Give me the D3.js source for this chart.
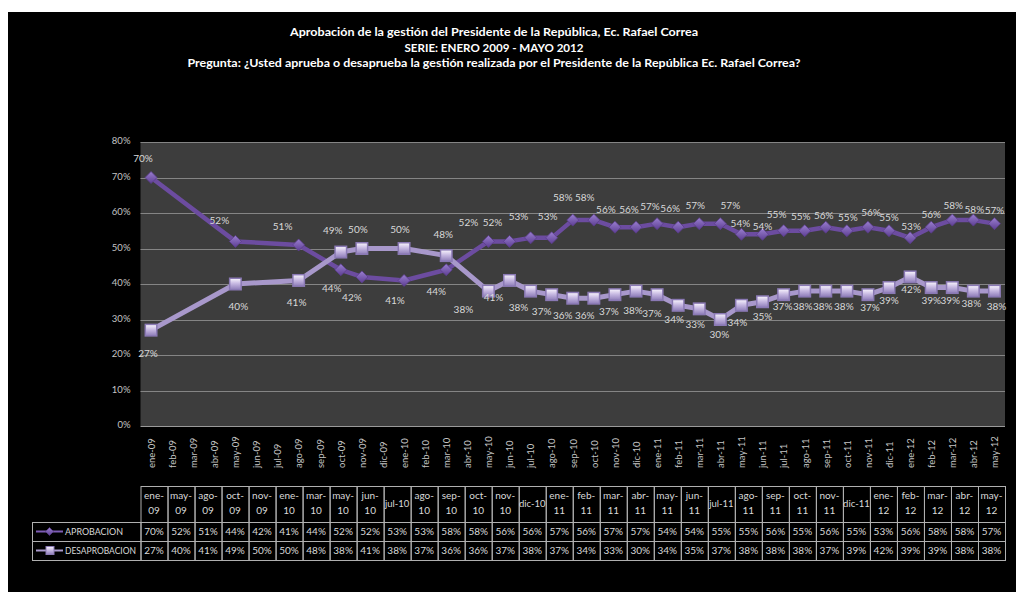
<!DOCTYPE html>
<html><head><meta charset="utf-8">
<script src="https://cdn.jsdelivr.net/npm/d3@7"></script>
<style>
html,body{margin:0;padding:0;background:#fff;}
svg{display:block;font-family:Lato,"Open Sans",sans-serif;}
</style></head>
<body>
<svg id="chart" width="1016" height="592"></svg>
<script>
// ---- data ----
const titleLines = [
  "Aprobación de la gestión del Presidente de la República, Ec. Rafael Correa",
  "SERIE: ENERO 2009 - MAYO 2012",
  "Pregunta: ¿Usted aprueba o desaprueba la gestión realizada por el Presidente de la República Ec. Rafael Correa?"
];
const months = ["ene-09","feb-09","mar-09","abr-09","may-09","jun-09","jul-09","ago-09","sep-09","oct-09","nov-09","dic-09",
  "ene-10","feb-10","mar-10","abr-10","may-10","jun-10","jul-10","ago-10","sep-10","oct-10","nov-10","dic-10",
  "ene-11","feb-11","mar-11","abr-11","may-11","jun-11","jul-11","ago-11","sep-11","oct-11","nov-11","dic-11",
  "ene-12","feb-12","mar-12","abr-12","may-12"];
const surveyDates = ["ene-09","may-09","ago-09","oct-09","nov-09","ene-10","mar-10","may-10","jun-10","jul-10","ago-10",
  "sep-10","oct-10","nov-10","dic-10","ene-11","feb-11","mar-11","abr-11","may-11","jun-11","jul-11","ago-11",
  "sep-11","oct-11","nov-11","dic-11","ene-12","feb-12","mar-12","abr-12","may-12"];
const aprobacion = [70,52,51,44,42,41,44,52,52,53,53,58,58,56,56,57,56,57,57,54,54,55,55,56,55,56,55,53,56,58,58,57];
const desaprobacion = [27,40,41,49,50,50,48,38,41,38,37,36,36,37,38,37,34,33,30,34,35,37,38,38,38,37,39,42,39,39,38,38];
const seriesNames = ["APROBACION","DESAPROBACION"];
const yTicks = [0,10,20,30,40,50,60,70,80];

// ---- layout (label placement offsets, px) ----
const offA = [[-8,-19],[-16,-21],[-16,-18],[-9,19],[-10,21],[-9,20],[-10,22],[-20,-19],[-17,-19],[-12,-21],[-4,-21],
  [-10,-23],[-9,-23],[-9,-18],[-7,-18],[-7,-17],[-8,-19],[-4,-18],[10,-18],[-1,-11],[0,-8],[-7,-16],[-4,-14],
  [-2,-12],[1,-13],[3,-15],[0,-13],[1,-11],[0,-13],[1,-15],[1,-11],[0,-13]];
const offD = [[-3,23],[3,22],[-2,22],[-8,-22],[-4,-19],[-4,-19],[-3,-21],[-25,18],[-16,17],[-12,16],[-10,17],
  [-10,17],[-9,17],[-6,17],[-3,19],[-5,19],[-4,14],[-4,16],[-1,15],[-4,17],[0,15],[-1,12],[-2,15],
  [-3,15],[-3,15],[2,13],[0,13],[1,13],[0,13],[-2,13],[-2,12],[2,15]];

const svg = d3.select("#chart");
svg.append("rect").attr("x",8).attr("y",12).attr("width",1008).attr("height",580).attr("fill","#000");

const defs = svg.append("defs");
const g1 = defs.append("linearGradient").attr("id","sqGrad").attr("x1",0).attr("y1",0).attr("x2",0).attr("y2",1);
g1.append("stop").attr("offset","0%").attr("stop-color","#f3eefa");
g1.append("stop").attr("offset","45%").attr("stop-color","#c7b9e2");
g1.append("stop").attr("offset","100%").attr("stop-color","#9483bd");
const g2 = defs.append("linearGradient").attr("id","dmGrad").attr("x1",0).attr("y1",0).attr("x2",0).attr("y2",1);
g2.append("stop").attr("offset","0%").attr("stop-color","#9a7fd0");
g2.append("stop").attr("offset","100%").attr("stop-color","#5d3e92");

// title
const cx = 494;
const tl = svg.append("g").attr("fill","#fff").attr("font-weight","bold").attr("font-size",12).attr("text-anchor","middle");
const tY = [36, 52, 67], tW = [408, 179, 613];
titleLines.forEach((t,i)=>{
  tl.append("text").attr("x",cx).attr("y",tY[i]).attr("textLength",tW[i]).attr("lengthAdjust","spacingAndGlyphs").text(t);
});

// scales
const plotL = 140.5, plotR = 1005, plotT = 142, plotB = 426;
const x = d3.scalePoint().domain(months).range([plotL, plotR]).padding(0.5);
const y = d3.scaleLinear().domain([0,80]).range([plotB, plotT]);

// plot area
svg.append("rect").attr("x",plotL).attr("y",plotT).attr("width",plotR-plotL).attr("height",plotB-plotT).attr("fill","#3d3d3d");
svg.append("g").selectAll("line").data(yTicks).join("line")
  .attr("x1",plotL).attr("x2",plotR).attr("y1",d=>Math.round(y(d))+0.5).attr("y2",d=>Math.round(y(d))+0.5)
  .attr("stroke",d=>d===0?"#9a9a9a":"#858585").attr("stroke-width",1);

// y axis labels
const yAxis = d3.axisLeft(y).tickValues(yTicks).tickFormat(d=>d+"%").tickSize(0).tickPadding(0);
const ya = svg.append("g").attr("transform",`translate(${plotL-10},0)`).call(yAxis);
ya.select(".domain").remove();
ya.selectAll("text").attr("fill","#c4c4c4").attr("font-size",9.5).attr("font-family","Lato,sans-serif").attr("dy","0.2em");

// x axis labels
const xAxis = d3.axisBottom(x).tickSize(0).tickPadding(0);
const xa = svg.append("g").attr("transform",`translate(0,${plotB})`).call(xAxis);
xa.select(".domain").remove();
xa.selectAll("text").attr("fill","#c4c4c4").attr("font-size",9.5).attr("font-family","Lato,sans-serif")
  .attr("text-anchor","start").attr("y",0).attr("dy","0.35em")
  .attr("transform","translate(0,42) rotate(-90)");

// lines
const dA = surveyDates.map((m,i)=>({m, v:aprobacion[i]}));
const dD = surveyDates.map((m,i)=>({m, v:desaprobacion[i]}));
const line = d3.line().x(d=>x(d.m)).y(d=>y(d.v));
svg.append("path").datum(dA).attr("d",line).attr("fill","none").attr("stroke","#6c4ca0").attr("stroke-width",4.5).attr("stroke-linejoin","round");
svg.append("path").datum(dD).attr("d",line).attr("fill","none").attr("stroke","#a898cb").attr("stroke-width",5).attr("stroke-linejoin","round");

// markers
const diamond = s => `M0,${-s}L${s},0L0,${s}L${-s},0Z`;
svg.append("g").selectAll("path").data(dA).join("path")
  .attr("transform",d=>`translate(${x(d.m)},${y(d.v)})`).attr("d",diamond(6))
  .attr("fill","url(#dmGrad)").attr("stroke","#5a3c8c").attr("stroke-width",0.8);
const sq = svg.append("g").selectAll("g").data(dD).join("g").attr("transform",d=>`translate(${x(d.m)},${y(d.v)})`);
sq.append("rect").attr("x",-6.5).attr("y",-6.5).attr("width",13).attr("height",13).attr("fill","#8a79b4");
sq.append("rect").attr("x",-5).attr("y",-5).attr("width",10).attr("height",10).attr("fill","url(#sqGrad)");

// data labels
const lblA = svg.append("g").attr("font-size",10).attr("fill","#d9d9d9").attr("text-anchor","middle");
lblA.selectAll("text").data(dA).join("text")
  .attr("x",(d,i)=>x(d.m)+offA[i][0]).attr("y",(d,i)=>y(d.v)+offA[i][1]).attr("dy","0.35em").text(d=>d.v+"%");
const lblD = svg.append("g").attr("font-size",10).attr("fill","#d9d9d9").attr("text-anchor","middle");
lblD.selectAll("text").data(dD).join("text")
  .attr("x",(d,i)=>x(d.m)+offD[i][0]).attr("y",(d,i)=>y(d.v)+offD[i][1]).attr("dy","0.35em").text(d=>d.v+"%");

// data table
const colW = (plotR - plotL) / surveyDates.length;
const hT = 486, r1 = 522, r2 = 541, r3 = 560, legL = 32;
const colX = d3.scaleBand().domain(surveyDates).range([plotL, plotR]);
const tb = svg.append("g");
const borderC = "#b0b0b0";
surveyDates.forEach((m,i)=>{
  const x0 = colX(m);
  tb.append("rect").attr("x",x0+0.5).attr("y",hT+0.5).attr("width",colW).attr("height",r1-hT).attr("fill","none").attr("stroke",borderC);
  const single = m.startsWith("jul") || m.startsWith("dic");
  const t = tb.append("text").attr("x",x0+colW/2).attr("text-anchor","middle").attr("font-size",10).attr("fill","#d9d9d9");
  if (single) {
    t.attr("y",(hT+r1)/2).attr("dy","0.35em").attr("font-size",9.5).text(m);
  } else {
    const parts = m.split("-");
    t.append("tspan").attr("x",x0+colW/2).attr("y",hT+13).text(parts[0]+"-");
    t.append("tspan").attr("x",x0+colW/2).attr("y",hT+28).text(parts[1]);
  }
  [[aprobacion[i], r1, r2],[desaprobacion[i], r2, r3]].forEach(([v,a,b])=>{
    tb.append("rect").attr("x",x0+0.5).attr("y",a+0.5).attr("width",colW).attr("height",b-a).attr("fill","none").attr("stroke",borderC);
    tb.append("text").attr("x",x0+colW/2).attr("y",(a+b)/2).attr("dy","0.35em").attr("text-anchor","middle")
      .attr("font-size",10).attr("fill","#d9d9d9").text(v+"%");
  });
});
// legend cells
const legTextW = [58, 71];
[[r1,r2,0],[r2,r3,1]].forEach(([a,b,k])=>{
  tb.append("rect").attr("x",legL+0.5).attr("y",a+0.5).attr("width",plotL-legL).attr("height",b-a).attr("fill","none").attr("stroke",borderC);
  const cy = (a+b)/2;
  const col = k===0 ? "#7d5cb4" : "#a898cb";
  tb.append("line").attr("x1",36).attr("x2",63).attr("y1",cy).attr("y2",cy).attr("stroke",col).attr("stroke-width",2);
  if (k===0) {
    tb.append("path").attr("transform",`translate(49.5,${cy})`).attr("d",diamond(4)).attr("fill","url(#dmGrad)").attr("stroke","#5a3c8c").attr("stroke-width",0.6);
  } else {
    tb.append("rect").attr("x",45.5).attr("y",cy-4.5).attr("width",9).attr("height",9).attr("fill","#8a79b4");
    tb.append("rect").attr("x",46.5).attr("y",cy-3.5).attr("width",7).attr("height",7).attr("fill","url(#sqGrad)");
  }
  tb.append("text").attr("x",65).attr("y",cy).attr("dy","0.35em").attr("font-size",9.5).attr("fill","#d9d9d9")
    .attr("textLength",legTextW[k]).attr("lengthAdjust","spacingAndGlyphs").text(seriesNames[k]);
});
</script>
</body></html>
